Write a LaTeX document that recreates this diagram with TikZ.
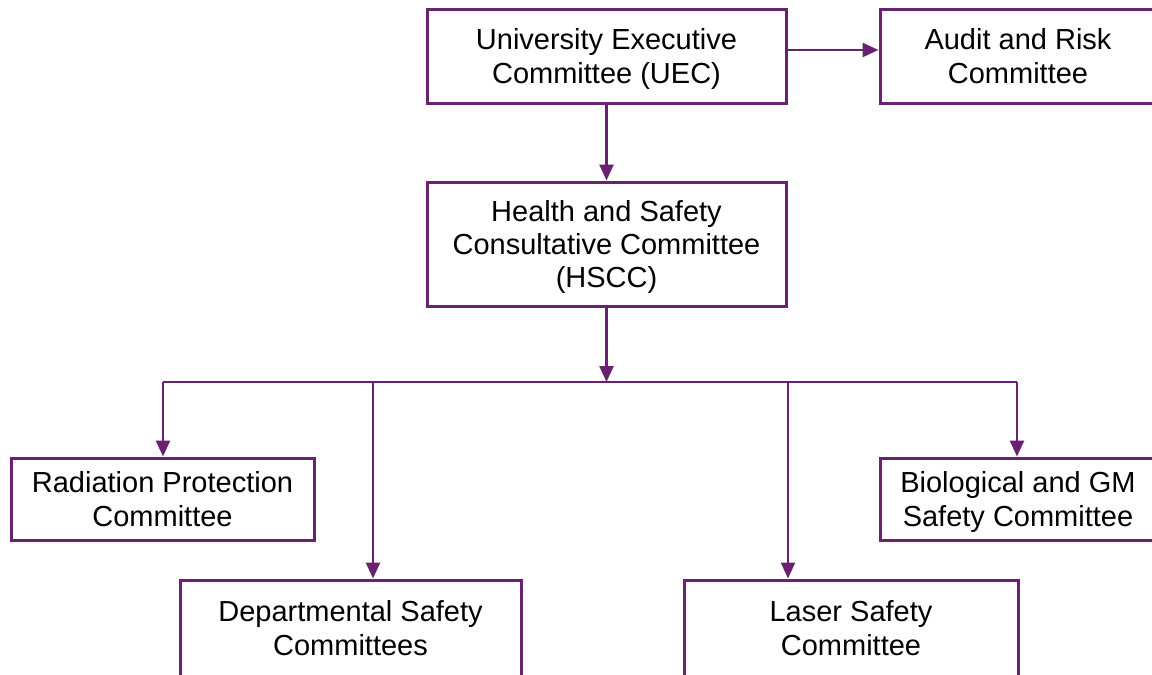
\documentclass[tikz,border=0pt]{standalone}
\usepackage{fontspec}
\setmainfont{Liberation Sans}
\usetikzlibrary{arrows.meta}
\definecolor{plum}{RGB}{104,34,112}
\tikzset{
  box/.style={draw=plum, line width=1.5pt, fill=white, inner sep=0pt, align=center,
    text height=27pt, text depth=0pt, font=\fontsize{14.5pt}{16.6pt}\selectfont},
  conn/.style={draw=plum, line width=1.25pt},
  arr/.style={conn, -{Triangle[length=8pt,width=7pt]}},
}
\begin{document}
\begin{tikzpicture}[x=0.5pt,y=-0.5pt]
\useasboundingbox (0,0) rectangle (1152,675);
\clip (0,0) rectangle (1152,675);
\fill[white] (0,0) rectangle (1152,675);
% boxes
\node[box, minimum width=179.5pt, minimum height=47pt] (uec) at (606.5,56) {University Executive\\Committee (UEC)};
\node[box, minimum width=138pt, minimum height=47pt] (audit) at (1018,56) {Audit and Risk\\Committee};
\node[box, minimum width=179.5pt, minimum height=62pt, text height=43.6pt] (hscc) at (606.5,244) {Health and Safety\\Consultative Committee\\(HSCC)};
\node[box, minimum width=151.5pt, minimum height=41pt] (rad) at (162.5,499) {Radiation Protection\\Committee};
\node[box, minimum width=138pt, minimum height=41pt] (bio) at (1018,499) {Biological and GM\\Safety Committee};
\node[box, minimum width=170.5pt, minimum height=48pt] (dept) at (350.5,628) {Departmental Safety\\Committees};
\node[box, minimum width=167pt, minimum height=48pt] (laser) at (851,628) {Laser Safety\\Committee};
% bus
\coordinate (bm) at (606.5,382);
\coordinate (b1) at (163,382);
\coordinate (b2) at (373,382);
\coordinate (b3) at (788,382);
\coordinate (b4) at (1017,382);
% connectors
\draw[arr] ([yshift=3pt]uec.east) -- ([yshift=3pt]audit.west);
\draw[arr] (uec.south) -- (hscc.north);
\draw[conn] (b1) -- (b4);
\draw[arr] (hscc.south) -- (bm);
\draw[arr] (b1) -- (b1 |- rad.north);
\draw[arr] (b2) -- (b2 |- dept.north);
\draw[arr] (b3) -- (b3 |- laser.north);
\draw[arr] (b4) -- (b4 |- bio.north);
\end{tikzpicture}
\end{document}
